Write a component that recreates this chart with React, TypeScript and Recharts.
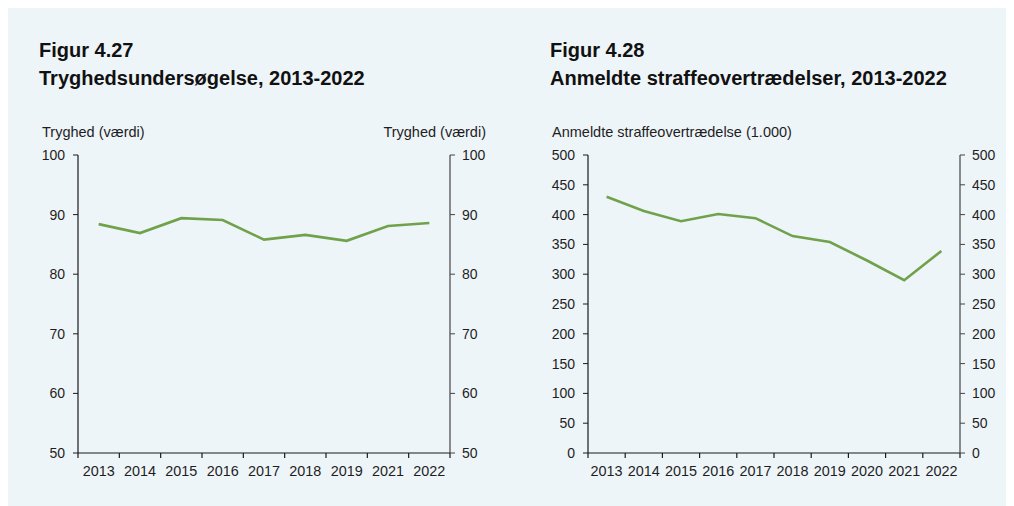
import React from 'react';
import { LineChart, Line, XAxis, YAxis } from 'recharts';

// Figur 4.27 - tryghed
const trygYears = ['2013', '2014', '2015', '2016', '2017', '2018', '2019', '2021', '2022'];
const trygValues = [88.4, 86.9, 89.4, 89.1, 85.8, 86.6, 85.6, 88.1, 88.6];
const trygTicks = [50, 60, 70, 80, 90, 100];

// Figur 4.28 - anmeldte straffeovertrædelser (1.000)
const crimeYears = ['2013', '2014', '2015', '2016', '2017', '2018', '2019', '2020', '2021', '2022'];
const crimeValues = [430, 406, 389, 401, 394, 364, 354, 323, 290, 339];
const crimeTicks = [0, 50, 100, 150, 200, 250, 300, 350, 400, 450, 500];

const FONT = '"Liberation Sans", Arial, sans-serif';
const TEXT = '#1e1e1e';
const GREEN = '#6fa24b';
const AXIS = '#1a1a1a';

const trygData = trygYears.map((year, i) => ({ year, value: trygValues[i] }));
const crimeData = crimeYears.map((year, i) => ({ year, value: crimeValues[i] }));

// year label in the middle of the band, small tick marks on the band edges
const BandTick = (props: any) => {
  const { x, y, payload, index, width, visibleTicksCount } = props;
  const half = width / visibleTicksCount / 2;
  const last = index === visibleTicksCount - 1;
  return (
    <g>
      <path d={`M${x - half},${y}v5`} stroke={AXIS} strokeWidth={1.2} fill="none" />
      {last && <path d={`M${x + half},${y}v5`} stroke={AXIS} strokeWidth={1.2} fill="none" />}
      <text x={x} y={y + 13} dy="0.71em" textAnchor="middle" fill={TEXT} fontSize={14.4} fontFamily={FONT}>
        {payload.value}
      </text>
    </g>
  );
};

const tickStyle = { fill: TEXT, fontSize: 14, fontFamily: FONT };

const Title = ({ left, fig, text }: { left: number; fig: string; text: string }) => (
  <div
    style={{
      position: 'absolute',
      left,
      top: 28,
      fontFamily: FONT,
      fontWeight: 'bold',
      fontSize: 20,
      lineHeight: '28px',
      color: '#111',
      whiteSpace: 'nowrap',
    }}
  >
    <div>{fig}</div>
    <div>{text}</div>
  </div>
);

const AxisTitle = ({ left, text, align = 'left', width = 300 }: { left: number; text: string; align?: 'left' | 'right'; width?: number }) => (
  <div
    style={{
      position: 'absolute',
      left,
      top: 116,
      width,
      textAlign: align,
      fontFamily: FONT,
      fontSize: 14.5,
      lineHeight: '16px',
      color: TEXT,
      whiteSpace: 'nowrap',
    }}
  >
    {text}
  </div>
);

const Panel = ({ data, ticks, domain, width, leftW, rightW }: any) => (
  <LineChart width={width} height={498} data={data} margin={{ top: 147, right: 0, bottom: 23, left: 0 }}>
    <XAxis
      dataKey="year"
      scale="band"
      interval={0}
      height={30}
      tickSize={0}
      tickMargin={0}
      tickLine={false}
      axisLine={{ stroke: AXIS, strokeWidth: 1.2 }}
      tick={<BandTick />}
    />
    <YAxis
      yAxisId="left"
      domain={domain}
      ticks={ticks}
      width={leftW}
      tickSize={5}
      tickMargin={8}
      axisLine={{ stroke: AXIS, strokeWidth: 1.2 }}
      tickLine={{ stroke: AXIS }}
      tick={tickStyle}
    />
    <YAxis
      yAxisId="right"
      orientation="right"
      domain={domain}
      allowDataOverflow
      ticks={ticks}
      width={rightW}
      tickSize={5}
      tickMargin={7}
      axisLine={{ stroke: '#444', strokeWidth: 1.2 }}
      tickLine={{ stroke: '#444' }}
      tick={tickStyle}
    />
    <Line
      yAxisId="left"
      type="linear"
      dataKey="value"
      stroke={GREEN}
      strokeWidth={2.6}
      dot={false}
      isAnimationActive={false}
    />
  </LineChart>
);

const App: React.FC = () => {
  return (
    <div style={{ position: 'relative', width: 1006, height: 498, background: '#eef5f9', overflow: 'hidden' }}>
      <Title left={31} fig="Figur 4.27" text="Tryghedsundersøgelse, 2013-2022" />
      <Title left={542} fig="Figur 4.28" text="Anmeldte straffeovertrædelser, 2013-2022" />

      <AxisTitle left={34} text="Tryghed (værdi)" />
      <AxisTitle left={178} width={300} align="right" text="Tryghed (værdi)" />
      <AxisTitle left={544} text="Anmeldte straffeovertrædelse (1.000)" />

      <div style={{ position: 'absolute', left: 0, top: 0 }}>
        <Panel data={trygData} ticks={trygTicks} domain={[50, 100]} width={500} leftW={70} rightW={58} />
      </div>

      <div style={{ position: 'absolute', left: 500, top: 0 }}>
        <Panel data={crimeData} ticks={crimeTicks} domain={[0, 500]} width={506} leftW={80} rightW={54} />
      </div>
    </div>
  );
};

export default App;
